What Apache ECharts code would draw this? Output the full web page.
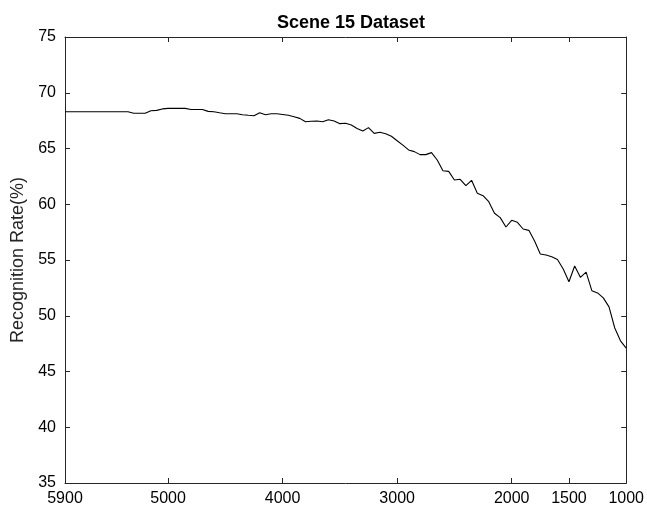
<!DOCTYPE html>
<html>
<head>
<meta charset="utf-8">
<script src="https://cdn.jsdelivr.net/npm/echarts@6/dist/echarts.min.js"></script>
<style>html,body{margin:0;padding:0;background:#fff}#c{width:647px;height:513px}</style>
</head>
<body>
<div id="c"></div>
<script>
const featureCounts = [5900,5850,5800,5750,5700,5650,5600,5550,5500,5450,5400,5350,5300,5250,5200,5150,5100,5050,5000,4950,4900,4850,4800,4750,4700,4650,4600,4550,4500,4450,4400,4350,4300,4250,4200,4150,4100,4050,4000,3950,3900,3850,3800,3750,3700,3650,3600,3550,3500,3450,3400,3350,3300,3250,3200,3150,3100,3050,3000,2950,2900,2850,2800,2750,2700,2650,2600,2550,2500,2450,2400,2350,2300,2250,2200,2150,2100,2050,2000,1950,1900,1850,1800,1750,1700,1650,1600,1550,1500,1450,1400,1350,1300,1250,1200,1150,1100,1050,1000];
const recognitionRate = [68.3,68.3,68.3,68.3,68.3,68.3,68.3,68.3,68.3,68.3,68.3,68.3,68.16,68.16,68.16,68.39,68.42,68.55,68.6,68.6,68.6,68.6,68.5,68.5,68.5,68.33,68.3,68.2,68.12,68.12,68.12,68.03,67.98,67.94,68.2,68.03,68.12,68.12,68.05,67.98,67.85,67.7,67.4,67.44,67.47,67.4,67.58,67.47,67.23,67.26,67.1,66.8,66.57,66.87,66.36,66.45,66.33,66.1,65.7,65.3,64.87,64.72,64.45,64.45,64.63,63.97,63.0,62.95,62.17,62.24,61.67,62.15,60.98,60.77,60.23,59.19,58.8,57.96,58.56,58.38,57.78,57.66,56.7,55.54,55.45,55.3,55.05,54.2,53.05,54.46,53.45,53.92,52.25,52.05,51.6,50.8,48.9,47.75,47.1];
const xTicks = [5900,5000,4000,3000,2000,1500,1000];
const yMin = 35, yMax = 75, yStep = 5;
const titleText = 'Scene 15 Dataset';
const yName = 'Recognition Rate(%)';

const font = 'Liberation Sans, Arial, Helvetica, sans-serif';
const chart = echarts.init(document.getElementById('c'), null, {renderer:'canvas'});
const lineStyle = {color:'#262626', width:1};
const xBase = {
  type:'value', min:1000, max:5900, inverse:true,
  axisLine:{show:true, lineStyle:lineStyle},
  axisTick:{show:true, inside:true, length:5, customValues:xTicks, lineStyle:lineStyle},
  splitLine:{show:false}
};
const yBase = {
  type:'value', min:yMin, max:yMax, interval:yStep,
  axisLine:{show:true, lineStyle:lineStyle},
  axisTick:{show:true, inside:true, length:5, lineStyle:lineStyle},
  splitLine:{show:false}
};
chart.setOption({
  backgroundColor:'#fff',
  animation:false,
  title:{text:titleText, left:346, top:9, textAlign:'center',
    textStyle:{fontFamily:font, fontSize:18, fontWeight:'bold', color:'#000'}},
  grid:{left:65, right:19, top:37, bottom:30, containLabel:false},
  xAxis:[
    Object.assign({}, xBase, {position:'bottom',
      axisLabel:{show:true, customValues:xTicks, margin:8, fontFamily:font, fontSize:16, color:'#000',
        formatter:function(v){return String(v);}}}),
    Object.assign({}, xBase, {position:'top', axisLabel:{show:false}})
  ],
  yAxis:[
    Object.assign({}, yBase, {position:'left', name:yName, nameLocation:'middle', nameGap:36,
      nameTextStyle:{fontFamily:font, fontSize:18, color:'#262626'},
      axisLabel:{show:true, margin:9, fontFamily:font, fontSize:16, color:'#000'}}),
    Object.assign({}, yBase, {position:'right', axisLabel:{show:false}})
  ],
  series:[{
    type:'line',
    data: featureCounts.map((v,i)=>[v, recognitionRate[i]]),
    showSymbol:false, symbol:'none',
    lineStyle:{color:'#000', width:1.1},
    xAxisIndex:0, yAxisIndex:0
  }]
});
</script>
</body>
</html>
